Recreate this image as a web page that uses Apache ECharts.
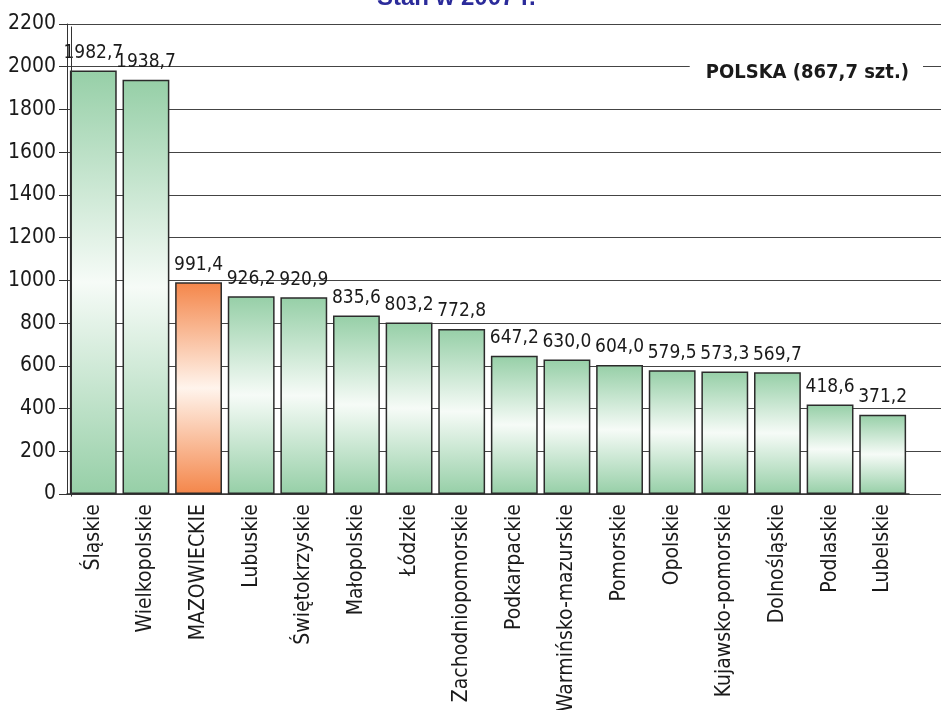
<!DOCTYPE html>
<html><head><meta charset="utf-8">
<script src="https://cdn.jsdelivr.net/npm/echarts@6/dist/echarts.min.js"></script>
<style>html,body{margin:0;padding:0;background:#fff}#c{width:941px;height:710px}</style>
</head><body><div id="c"></div>
<script>
const categories = ['Śląskie','Wielkopolskie','MAZOWIECKIE','Lubuskie','Świętokrzyskie','Małopolskie','Łódzkie','Zachodniopomorskie','Podkarpackie','Warmińsko-mazurskie','Pomorskie','Opolskie','Kujawsko-pomorskie','Dolnośląskie','Podlaskie','Lubelskie'];
const values = [1982.7,1938.7,991.4,926.2,920.9,835.6,803.2,772.8,647.2,630.0,604.0,579.5,573.3,569.7,418.6,371.2];
const highlightCategory = 'MAZOWIECKIE';
const titleText = 'Stan w 2007 r.';
const polskaText = 'POLSKA (867,7 szt.)';
const yMin = 0, yMax = 2200, yInterval = 200;

const FONT = "'Liberation Sans Narrow','DejaVu Sans Condensed','Roboto',sans-serif";
function grad(edge, mid){
  return {type:'linear',x:0,y:0,x2:0,y2:1,colorStops:[
    {offset:0,color:edge},{offset:0.5,color:mid},{offset:1,color:edge}]};
}
const greenFill = grad('#96cfa7','#f6fbf7');
const orangeFill = grad('#f4864a','#fff4ec');

const chart = echarts.init(document.getElementById('c'));
chart.setOption({
  animation:false,
  backgroundColor:'#fff',
  grid:[
    {left:67,right:32,top:24,bottom:216,containLabel:false,outerBoundsMode:'none'},
    {left:67,right:0,top:24,bottom:216,containLabel:false,outerBoundsMode:'none'}
  ],
  xAxis:[
    {type:'category',data:categories,gridIndex:0,
      axisLine:{show:true,lineStyle:{color:'#333',width:1.5}},
      axisTick:{show:false},
      axisLabel:{rotate:90,interval:0,margin:10,fontFamily:FONT,fontSize:21,color:'#1a1a1a'}},
    {type:'value',gridIndex:1,show:false,min:0,max:1}
  ],
  yAxis:[
    {type:'value',gridIndex:0,min:yMin,max:yMax,interval:yInterval,
      axisLine:{show:true,lineStyle:{color:'#333',width:1}},
      axisTick:{show:true,length:8,lineStyle:{color:'#333'}},
      axisLabel:{fontFamily:FONT,fontSize:21,color:'#1a1a1a',margin:11,formatter:v=>String(v)},
      splitLine:{show:false}},
    {type:'value',gridIndex:1,min:yMin,max:yMax,interval:yInterval,
      axisLine:{show:false},axisTick:{show:false},axisLabel:{show:false},
      splitLine:{show:true,lineStyle:{color:'#444',width:1}}}
  ],
  series:[{type:'bar',xAxisIndex:0,yAxisIndex:0,barWidth:'89%',z:3,
    data:values.map((v,i)=>({value:v,itemStyle:{color:categories[i]===highlightCategory?orangeFill:greenFill}})),
    itemStyle:{borderColor:'#2b2b2b',borderWidth:1.5},
    label:{show:true,position:'top',distance:8,fontFamily:FONT,fontSize:19,color:'#1a1a1a',
      formatter:p=>p.value.toFixed(1).replace('.',',')}}],
  graphic:[
    {type:'line',left:69,top:24,z:50,shape:{x1:0,y1:0,x2:0,y2:470},style:{stroke:'#333',lineWidth:1}},
    {type:'text',right:18,top:61,z:100,style:{text:polskaText,fontFamily:FONT,fontSize:20,fontWeight:'bold',fill:'#1a1a1a',
      backgroundColor:'#fff',padding:[2,14,2,16]}},
    {type:'text',left:377,top:-14,style:{text:titleText,fontFamily:"'Liberation Sans','Arial',sans-serif",fontSize:24,fontWeight:'bold',fill:'#2b2b9a'}}
  ]
});
</script></body></html>
